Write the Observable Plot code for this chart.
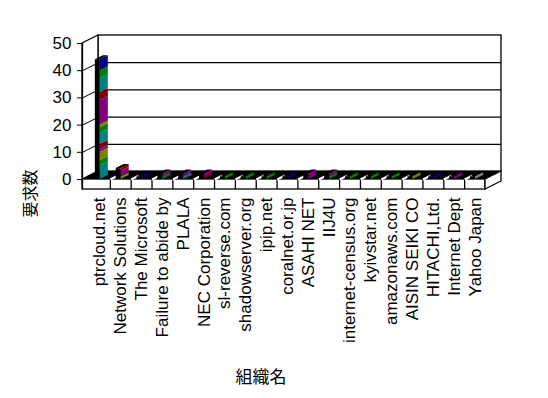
<!DOCTYPE html>
<html>
<head>
<meta charset="utf-8">
<script src="https://cdn.jsdelivr.net/npm/d3@7"></script>
<script src="https://cdn.jsdelivr.net/npm/@observablehq/plot@0.6"></script>
<style>
  html, body { margin: 0; padding: 0; background: #ffffff; }
  #chart { width: 548px; height: 398px; }
</style>
</head>
<body>
<div id="chart"></div>
<script>
// ---------- data ----------
const categories = [
  "ptrcloud.net", "Network Solutions", "The Microsoft", "Failure to abide by",
  "PLALA", "NEC Corporation", "sl-reverse.com", "shadowserver.org", "ipip.net",
  "coralnet.or.jp", "ASAHI NET", "IIJ4U", "internet-census.org", "kyivstar.net",
  "amazonaws.com", "AISIN SEIKI CO", "HITACHI,Ltd.", "Internet Dept", "Yahoo Japan"
];
// stacked segments per category, bottom to top
const segmentSeries = [
  ["teal","green","olive","purple","maroon","teal","green","olive","purple","maroon","teal","green","navy"],
  ["olive","purple","maroon"],
  ["navy"],
  ["green","purple"],
  ["teal","purple"],
  ["maroon","purple"],
  ["green"],
  ["green"],
  ["green"],
  ["navy"],
  ["purple","purple"],
  ["green","purple"],
  ["green"],
  ["green"],
  ["green"],
  ["olive"],
  ["navy"],
  ["purple"],
  ["gray"]
];
const segmentValues = [
  [5, 2, 3, 1, 2, 4, 2, 1, 9, 3, 5, 3, 4],
  [1, 2, 1],
  [1],
  [1, 1],
  [1, 1],
  [1, 1],
  [1],
  [1],
  [1],
  [1],
  [1, 1],
  [1, 1],
  [1],
  [1],
  [1],
  [1],
  [1],
  [1],
  [1]
];
const seriesColors = {
  teal: "#008080", green: "#008000", olive: "#808000", purple: "#800080",
  maroon: "#800000", navy: "#000080", gray: "#808080"
};
const yTicks = [0, 10, 20, 30, 40, 50];
const gridValues = [10, 20, 30, 40];
const yLabel = "要求数";
const xLabel = "組織名";

// ---------- layout (style) ----------
const W = 548, H = 398;
const mL = 82, mR = 63, mT = 43, mB = 219;
const padLpx = 7;
const n = categories.length;
const slotPx = (W - mL - mR - padLpx) / n;
const yMax = 50;
const unitPx = (H - mT - mB) / yMax;
const xl = -0.5 - padLpx / slotPx, xr = n - 0.5;
const DX = 16 / slotPx, DY = 8 / unitPx;      // wall depth
const BDX = 8 / slotPx, BDY = 4 / unitPx;     // bar depth
const SLAB = 10 / unitPx;                     // floor slab thickness
const F0 = -0.22, F1 = 0.02;                  // bar front face within slot

// ---------- derived tables ----------
const segs = [];
const totals = [];
categories.forEach((c, i) => {
  let acc = 0;
  segmentValues[i].forEach((v, k) => {
    segs.push({i, k, lo: acc, hi: acc + v, color: seriesColors[segmentSeries[i][k]]});
    acc += v;
  });
  totals.push({i, total: acc});
});
const sidePts = segs.flatMap((s, j) => [
  {id: j, x: s.i + F1, y1: s.lo, y2: s.hi, color: s.color},
  {id: j, x: s.i + F1 + BDX, y1: s.lo + BDY, y2: s.hi + BDY, color: s.color}
]);
const topPts = totals.flatMap(t => [
  {id: t.i, y: t.total, x1: t.i + F0, x2: t.i + F1},
  {id: t.i, y: t.total + BDY, x1: t.i + F0 + BDX, x2: t.i + F1 + BDX}
]);
const dividers = d3.range(n - 1).map(i => i + 0.5);

const font = "'Liberation Sans', Arial, sans-serif";
const cjk = "'Noto Sans CJK JP', sans-serif";

const chart = Plot.plot({
  width: W, height: H,
  marginLeft: mL, marginRight: mR, marginTop: mT, marginBottom: mB,
  style: {fontFamily: font, background: "#ffffff", color: "#000"},
  x: {type: "linear", domain: [xl, xr], axis: null},
  y: {domain: [0, yMax], axis: null},
  color: {type: "identity"},
  marks: [
    // back wall
    Plot.rect([0], {x1: xl + DX, x2: xr + DX, y1: DY, y2: yMax + DY, fill: "white", stroke: "black", strokeWidth: 1.3}),
    // left wall
    Plot.areaY([{x: xl, y1: 0, y2: yMax}, {x: xl + DX, y1: DY, y2: yMax + DY}],
      {x: "x", y1: "y1", y2: "y2", fill: "white", stroke: "black", strokeWidth: 1.3}),
    // gridlines
    Plot.ruleY(gridValues, {y: d => d + DY, x1: xl + DX, x2: xr + DX, stroke: "black", strokeWidth: 1.3}),
    Plot.link(gridValues, {x1: xl, y1: d => d, x2: xl + DX, y2: d => d + DY, stroke: "black", strokeWidth: 1}),
    // floor (black)
    Plot.areaX([{y: 0, x1: xl, x2: xr}, {y: DY, x1: xl + DX, x2: xr + DX}],
      {y: "y", x1: "x1", x2: "x2", fill: "black"}),
    // floor slab front + right side
    Plot.rect([0], {x1: xl, x2: xr, y1: -SLAB, y2: 0, fill: "white", stroke: "black", strokeWidth: 1.3}),
    Plot.areaY([{x: xr, y1: -SLAB, y2: 0}, {x: xr + DX, y1: -SLAB + DY, y2: DY}],
      {x: "x", y1: "y1", y2: "y2", fill: "white", stroke: "black", strokeWidth: 1.3}),
    Plot.ruleX(dividers, {x: d => d, y1: -SLAB, y2: 0, stroke: "black", strokeWidth: 1.3}),
    Plot.link(dividers, {x1: d => d, y1: 0, x2: d => d + DX / 2, y2: DY / 2, stroke: "white", strokeWidth: 2}),
    // y axis line
    Plot.ruleX([xl], {y1: -SLAB, y2: yMax, stroke: "black", strokeWidth: 1.3}),
    // bars: front face + top (black), side faces (series colours)
    Plot.rect(totals, {x1: d => d.i + F0, x2: d => d.i + F1, y1: 0, y2: "total", fill: "black"}),
    Plot.areaX(topPts, {y: "y", x1: "x1", x2: "x2", z: "id", fill: "black"}),
    Plot.areaY(sidePts, {x: "x", y1: "y1", y2: "y2", z: "id", fill: "color"}),
    // axes
    Plot.axisY(yTicks, {anchor: "left", tickSize: 5, tickPadding: 6, fontSize: 17, label: null}),
    Plot.axisX(d3.range(n), {anchor: "bottom", tickFormat: i => categories[i], tickRotate: -90,
      tickSize: 0, tickPadding: 18, fontSize: 17, label: null}),
    // axis titles
    Plot.text([yLabel], {text: d => d, frameAnchor: "bottom-left", dx: -52, dy: 14, rotate: -90,
      textAnchor: "middle", lineAnchor: "middle", fontSize: 16, fontFamily: cjk}),
    Plot.text([xLabel], {text: d => d, frameAnchor: "bottom", dx: -23, dy: 198,
      textAnchor: "middle", lineAnchor: "middle", fontSize: 17, fontFamily: cjk})
  ]
});
document.getElementById("chart").appendChild(chart);
</script>
</body>
</html>
